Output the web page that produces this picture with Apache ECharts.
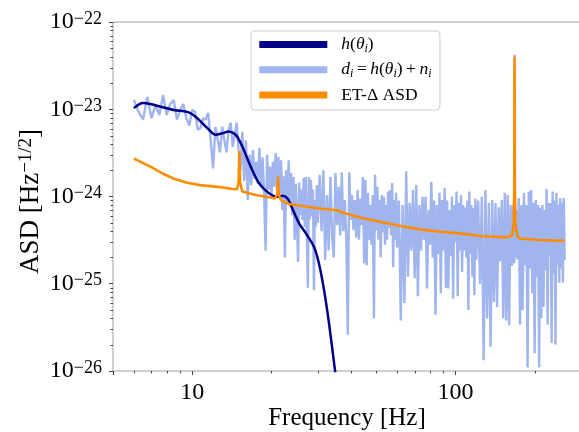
<!DOCTYPE html>
<html>
<head>
<meta charset="utf-8">
<script src="https://cdn.jsdelivr.net/npm/echarts@6/dist/echarts.min.js"></script>
<style>
  html, body { margin: 0; padding: 0; background: #fff; }
  #chart { width: 579px; height: 432px; }
</style>
</head>
<body>
<div id="chart"></div>
<script>
// amplitudes below are in units of 1e-25 Hz^-1/2, frequencies in Hz
const ASD_UNIT = 1e-25;

// noisy data d_i = h(theta_i) + n_i
const noiseFreq = [
  6, 6.25, 6.5, 6.75, 7, 7.25, 7.5, 7.75, 8, 8.25, 8.5, 8.75, 9, 9.25, 9.5, 9.75,
  10, 10.25, 10.5, 10.75, 11, 11.25, 11.5, 11.75, 12, 12.25, 12.5, 12.75, 13, 13.25,
  13.5, 13.75, 14, 14.25, 14.5, 14.75, 15,
  15.25, 15.5, 15.75, 16, 16.25, 16.5, 16.75, 17, 17.25, 17.5, 17.75, 18, 18.25, 18.5,
  18.75, 19, 19.25, 19.5, 19.75, 20, 20.25, 20.5, 20.75, 21, 21.25, 21.5, 21.75, 22,
  22.25, 22.5, 22.75, 23, 23.25, 23.5, 23.75, 24, 24.25, 24.5, 24.75, 25, 25.25, 25.5,
  25.75, 26, 26.25, 26.5, 26.75, 27, 27.25, 27.5, 27.75, 28, 28.25, 28.5, 28.75, 29,
  29.25, 29.5, 29.75, 30,
  30.5, 31, 31.5, 32, 32.5, 33, 33.5, 34, 34.5, 35, 35.5, 36, 36.5, 37, 37.5, 38, 38.5,
  39, 39.5, 40, 40.5, 41, 41.5, 42, 42.5, 43, 43.5, 44, 44.5, 45, 45.5, 46, 46.5, 47,
  47.5, 48, 48.5, 49, 49.5, 50, 50.5, 51, 51.5, 52, 52.5, 53, 53.5, 54, 54.5, 55, 55.5,
  56, 56.5, 57, 57.5, 58, 58.5, 59, 59.5, 60,
  61, 62, 63, 64, 65, 66, 67, 68, 69, 70, 71, 72, 73, 74, 75, 76, 77, 78, 79, 80, 81,
  82, 83, 84, 85, 86, 87, 88, 89, 90, 91, 92, 93, 94, 95, 96, 97, 98, 99, 100, 101,
  102, 103, 104, 105, 106, 107, 108, 109, 110, 111, 112, 113, 114, 115, 116, 117, 118,
  119, 120,
  122, 124, 126, 128, 130, 132, 134, 136, 138, 140, 142, 144, 146, 148, 150, 152, 154,
  156, 158, 160, 162, 164, 166, 167.4, 167.8, 168.2, 170, 172, 174, 176, 178, 180, 182,
  184, 186, 188, 190, 192, 194, 196, 198, 200, 202, 204, 206, 208, 210, 212, 214, 216,
  218, 220, 222, 224, 226, 228, 230, 232, 234, 236, 238, 240, 242, 244, 246, 248, 250,
  252, 254, 256, 258, 260
];
const noiseAsd = [
  128, 94, 76, 138, 79, 112, 86, 146, 86, 115, 128, 76, 98, 115, 79, 65,
  98, 94, 58, 61, 79, 76, 91, 44.5, 21, 63, 44.5, 32, 63, 44.5,
  32, 58, 70, 37, 51, 70, 34,
  20, 55, 15, 44, 9.1, 30, 13.5, 34, 16, 25, 14, 36, 13, 28,
  11, 2.4, 30, 12, 22, 9.9, 25, 13, 31.5, 12, 28.5, 11, 26, 7.0,
  17, 2.0, 20, 9, 26, 8, 18.6, 6.1, 16.7, 3.2, 14, 5, 1.78, 14.5,
  6.1, 12, 5.4, 16.3, 4.5, 16.7, 4.1, 0.90, 16.7, 5.5, 15.5, 6, 12, 0.84,
  9.1, 4.5, 13.5, 5,
  17.7, 4, 20, 1.87, 10.4, 2.4, 16.7, 3.5, 2.0, 18.6, 4.7, 12.9, 3.6, 19, 4, 9.1, 3.3,
  0.26, 19, 5.4, 10.4, 4.1, 9.1, 3.4, 11.9, 3.2, 9.5, 4.7, 16.7, 1.72, 15.5, 1.63, 11.0, 3.2,
  8.0, 2.8, 10.4, 0.40, 17.7, 4.1, 12.9, 3.2, 9.1, 2.0, 10.4, 3.9, 9.9, 2.8, 8.0, 3.2, 11.4,
  4.35, 11.9, 3.6, 14.3, 1.55, 9.1, 3.2, 11.0, 2.6,
  9.0, 0.38, 8.0, 0.60, 19.5, 1.2, 8.5, 2.4, 11.9, 1.16, 13.5, 0.72, 8.0, 2.4, 9.9, 3.2, 9.9,
  0.88, 7.0, 2.8, 14.7, 2.0, 9.0, 0.44, 8.0, 2.2, 11.0, 0.78, 9.1, 2.4, 12.5, 0.90, 9.0,
  0.88, 7.0, 2.1, 9.9, 0.68, 8.0, 3.0, 11.4, 0.72, 8.5, 2.4, 10.4, 1.36, 8.0, 2.4, 7.5,
  2.0, 9.0, 0.50, 11.4, 2.2, 8.0, 1.2, 7.4, 0.74, 9.5, 1.87,
  9.0, 1.0, 9.9, 0.133, 11.9, 0.40, 8.5, 0.19, 9.1, 0.62, 8.4, 0.54, 7.5, 1.8, 9.1, 0.40, 11.0,
  0.38, 10.4, 0.335, 8.0, 1.6, 8.0, 1.72, 420, 2.0, 7.0, 1.9, 9.6, 0.34, 8.0, 0.50, 11.0,
  1.63, 8.0, 0.11, 11.4, 1.5, 11.9, 0.78, 8.5, 0.16, 9.1, 1.2, 8.0, 0.11, 7.5, 0.40, 8.0,
  0.54, 7.0, 1.43, 12.2, 0.34, 8.4, 2.1, 8.4, 0.21, 11.4, 1.3, 9.0, 0.20, 11.0, 1.63, 8.0,
  1.03, 9.6, 1.5, 8.5, 1.03, 9.6, 1.87
];

// model waveform h(theta_i)
const signalFreq = [
  6, 6.5, 7, 7.57, 8.51, 9.7, 10.45, 11.4, 12.27, 13, 13.78, 14.62, 15.28, 15.72,
  16.68, 17.94, 19.58, 21.06, 22, 23, 24, 25.5, 27, 29, 30.3, 31.7, 33.1, 34.6, 36
];
const signalAsd = [
  103, 118, 114, 107, 98, 92, 79, 61, 51, 53, 55.5, 51, 41, 34, 22, 14.2, 10.9, 9.95,
  10.2, 9.5, 7.3, 4.9, 3.8, 2.65, 1.71, 0.84, 0.35, 0.122, 0.05
];

// ET-Delta sensitivity curve
const etFreq = [
  6, 6.94, 7.79, 8.51, 9.57, 10.7, 12.8, 14.2, 14.8, 15, 15.1, 15.2, 15.5, 17.4, 19.6,
  20.6, 21.05, 21.2, 21.35, 21.7, 23.3, 26.2, 30.3, 35.1, 38.3, 43.8, 52.1, 62, 73.7,
  87.6, 104, 127, 156, 164, 166.5, 167.3, 167.8, 168.3, 169.1, 172, 175, 209, 260
];
const etAsd = [
  27.2, 22, 18.1, 16, 14.4, 13.5, 12.8, 12.2, 12.1, 14.5, 33, 14.5, 11.4, 10.4, 9.8,
  9.5, 10.5, 16.9, 10.5, 9.1, 8.2, 7.8, 7.3, 7.0, 6.4, 5.7, 5.1, 4.6, 4.2, 3.94, 3.78,
  3.5, 3.4, 3.6, 4.8, 13, 400, 13, 4.8, 3.5, 3.3, 3.17, 3.1
];

// minor tick positions
const xMinorTicks = [6, 7, 8, 9, 20, 30, 40, 50, 60, 70, 80, 90, 200];
const yMinorTicks = [];
[1e-26, 1e-25, 1e-24, 1e-23].forEach(function (d) {
  for (let k = 2; k <= 9; k++) yMinorTicks.push(k * d);
});

const serif = '"Liberation Serif", "DejaVu Serif", serif';
const tickColor = '#444';
const spineColor = '#a0a0a0';

const legendText = {
  'h': '{g|\u00a0}{it|h}{rm|(}{it|θ}{sub|i}{rm|)}',
  'd': '{g|\u00a0}{it|d}{sub|i}{rm|\u2009=\u2009}{it|h}{rm|(}{it|θ}{sub|i}{rm|)\u2009+\u2009}{it|n}{sub|i}',
  'et': '{g|\u00a0}{rm|ET-Δ ASD}'
};

function zip(xs, ys) {
  return xs.map(function (x, i) { return [x, ys[i] * ASD_UNIT]; });
}

function isPow10(v) {
  const l = Math.log10(v);
  return Math.abs(l - Math.round(l)) < 1e-6;
}

const option = {
  backgroundColor: '#fff',
  animation: false,
  grid: {
    left: 113,
    top: 22,
    width: 468,
    height: 349,
    show: true,
    borderColor: spineColor,
    borderWidth: 1,
    backgroundColor: 'transparent',
    containLabel: false,
    outerBoundsMode: 'none'
  },
  legend: {
    orient: 'vertical',
    left: 251,
    top: 31,
    icon: 'rect',
    itemWidth: 68,
    itemHeight: 7,
    itemGap: 5.2,
    padding: [3.6, 8.4, 5, 8.3],
    backgroundColor: 'rgba(255,255,255,0.8)',
    borderColor: '#cccccc',
    borderWidth: 1,
    borderRadius: 4,
    selectedMode: false,
    data: ['h', 'd', 'et'],
    formatter: function (name) { return legendText[name]; },
    textStyle: {
      color: '#000',
      fontFamily: serif,
      fontSize: 17.5,
      lineHeight: 20,
      rich: {
        g: { width: 9, fontSize: 10, lineHeight: 20 },
        rm: { fontFamily: serif, fontSize: 17.5, lineHeight: 20, color: '#000' },
        it: { fontFamily: serif, fontStyle: 'italic', fontSize: 17.5, lineHeight: 20, color: '#000' },
        sub: { fontFamily: serif, fontStyle: 'italic', fontSize: 12, lineHeight: 11, verticalAlign: 'bottom', color: '#000' }
      }
    }
  },
  xAxis: {
    type: 'log',
    logBase: 10,
    min: 5,
    max: 300,
    name: 'Frequency [Hz]',
    nameLocation: 'middle',
    nameGap: 35,
    nameMoveOverlap: false,
    nameTextStyle: { fontFamily: serif, fontSize: 25, color: '#000' },
    axisLine: { show: false },
    axisTick: { show: true, length: 4, lineStyle: { color: tickColor, width: 1 } },
    axisLabel: {
      margin: 10,
      fontFamily: serif,
      fontSize: 24,
      color: '#000',
      formatter: function (v) {
        return isPow10(v) ? String(Math.round(v)) : '';
      }
    },
    splitLine: { show: false }
  },
  yAxis: {
    type: 'log',
    logBase: 10,
    // a hair beyond the decades so that 1e-26 and 1e-22 are regular ticks
    min: 0.9999e-26,
    max: 1.0001e-22,
    name: '{rm|ASD [Hz}{sup|−1/2}{rm|]}',
    nameLocation: 'middle',
    nameGap: 68,
    nameRotate: 90,
    nameMoveOverlap: false,
    nameTextStyle: {
      fontFamily: serif,
      fontSize: 27,
      color: '#000',
      padding: [0, 10, 0, 0],
      rich: {
        rm: { fontFamily: serif, fontSize: 27, lineHeight: 28, color: '#000' },
        sup: { fontFamily: serif, fontSize: 19, lineHeight: 14, verticalAlign: 'top', color: '#000' }
      }
    },
    axisLine: { show: false },
    axisTick: { show: true, length: 4, lineStyle: { color: tickColor, width: 1 } },
    axisLabel: {
      margin: 11,
      showMinLabel: true,
      showMaxLabel: true,
      hideOverlap: false,
      formatter: function (v) {
        if (!isPow10(v)) return '';
        return '{b|10}{s|−' + (-Math.round(Math.log10(v))) + '}';
      },
      rich: {
        b: { fontFamily: serif, fontSize: 24, lineHeight: 24, color: '#000' },
        s: { fontFamily: serif, fontSize: 18, lineHeight: 14, verticalAlign: 'top', color: '#000' }
      }
    },
    splitLine: { show: false }
  },
  series: [
    {
      name: 'd',
      type: 'line',
      data: zip(noiseFreq, noiseAsd),
      showSymbol: false,
      color: '#a0b4ee',
      lineStyle: { color: '#a0b4ee', width: 2.4 },
      z: 2
    },
    {
      name: 'h',
      type: 'line',
      data: zip(signalFreq, signalAsd),
      showSymbol: false,
      smooth: 0.3,
      color: '#00008b',
      lineStyle: { color: '#00008b', width: 2.5 },
      z: 3
    },
    {
      name: 'et',
      type: 'line',
      data: zip(etFreq, etAsd),
      showSymbol: false,
      color: '#ff8c00',
      lineStyle: { color: '#ff8c00', width: 2.6 },
      z: 4
    }
  ]
};

const chart = echarts.init(document.getElementById('chart'));
chart.setOption(option);

// minor ticks on the log axes, placed through the axis scales
const yBottom = chart.convertToPixel({ yAxisIndex: 0 }, 1e-26);
const xLeft = chart.convertToPixel({ xAxisIndex: 0 }, 5);
const minor = [];
xMinorTicks.forEach(function (v) {
  const x = Math.round(chart.convertToPixel({ xAxisIndex: 0 }, v)) + 0.5;
  minor.push({
    type: 'line', silent: true, z: 10,
    shape: { x1: x, y1: yBottom, x2: x, y2: yBottom + 2.5 },
    style: { stroke: tickColor, lineWidth: 1 }
  });
});
yMinorTicks.forEach(function (v) {
  const y = Math.round(chart.convertToPixel({ yAxisIndex: 0 }, v)) + 0.5;
  minor.push({
    type: 'line', silent: true, z: 10,
    shape: { x1: xLeft - 2.5, y1: y, x2: xLeft, y2: y },
    style: { stroke: tickColor, lineWidth: 1 }
  });
});
chart.setOption({ graphic: minor });
</script>
</body>
</html>
